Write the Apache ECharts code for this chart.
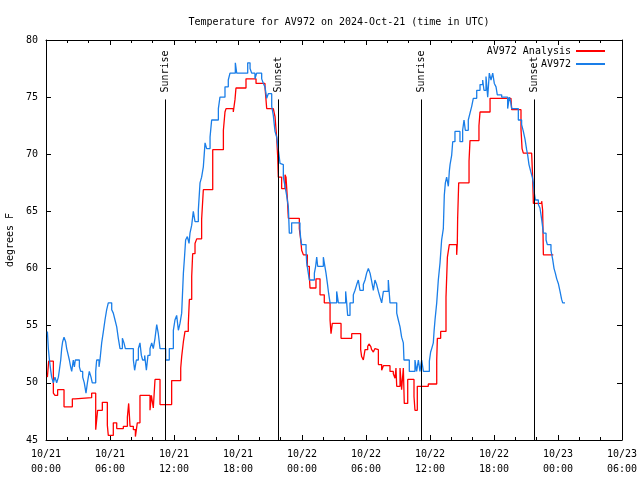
<!DOCTYPE html>
<html>
<head>
<meta charset="utf-8">
<script src="https://cdn.jsdelivr.net/npm/echarts@6/dist/echarts.min.js"></script>
<style>html,body{margin:0;padding:0;background:#fff}#c{width:640px;height:480px}</style>
</head>
<body>
<div id="c"></div>
<script>
// ---- data (hours since 2024-10-21 00:00 UTC, degrees F) ----
const chartTitle = 'Temperature for AV972 on 2024-Oct-21 (time in UTC)';
const xTickLabels = ['10/21\n00:00','10/21\n06:00','10/21\n12:00','10/21\n18:00','10/22\n00:00','10/22\n06:00','10/22\n12:00','10/22\n18:00','10/23\n00:00','10/23\n06:00'];
const yTickValues = [45,50,55,60,65,70,75,80];

const obsTime = [0.13,0.22,0.31,0.44,0.53,0.69,0.84,1.00,1.16,1.25,1.38,1.47,1.56,1.69,1.84,1.94,2.09,2.19,2.31,2.41,2.56,2.66,2.75,3.13,3.25,3.44,3.59,3.75,3.88,4.06,4.22,4.34,4.66,4.75,4.97,5.06,5.22,5.38,5.53,5.69,5.84,6.16,6.31,6.47,6.63,6.78,6.94,7.16,7.31,7.44,8.19,8.31,8.47,8.66,8.81,8.94,9.06,9.25,9.41,9.56,9.75,9.91,10.06,10.22,10.38,10.53,10.69,11.22,11.56,11.94,12.09,12.25,12.41,12.56,12.72,12.88,12.97,13.09,13.25,13.41,13.50,13.66,13.81,13.97,14.28,14.44,14.59,14.75,14.91,15.06,15.38,15.53,16.16,16.31,16.78,17.09,17.25,17.75,17.88,18.91,19.13,19.28,19.59,19.75,20.22,20.38,20.53,20.69,20.84,21.16,21.31,21.47,21.63,21.78,21.94,22.09,22.25,22.41,22.56,22.72,22.81,23.03,23.81,23.88,23.97,24.38,24.44,24.59,24.69,25.16,25.28,25.38,25.47,26.00,26.09,26.25,26.38,26.50,26.63,27.25,27.41,28.09,28.19,28.28,28.50,28.81,28.97,29.13,29.28,29.44,29.75,29.91,30.06,30.22,30.38,30.53,30.69,30.84,31.00,31.16,31.31,31.47,31.63,32.09,32.25,32.88,33.03,33.19,33.34,33.50,33.56,34.06,34.59,34.75,34.91,35.06,35.22,35.38,35.94,36.06,36.16,36.31,36.38,36.47,36.63,36.78,36.94,37.09,37.25,37.34,37.44,37.56,37.72,37.81,37.88,38.03,38.13,38.34,38.81,39.06,39.19,39.31,39.59,39.75,39.91,40.06,40.38,40.69,40.94,41.06,41.25,41.41,41.56,41.72,41.88,42.03,42.19,42.31,42.72,43.28,43.44,43.56,43.66,44.28,44.59,44.75,44.91,45.06,45.16,45.28,45.44,45.59,45.69,45.78,45.88,46.16,46.31,46.47,46.63,46.88,47.00,47.34,47.50,47.63,47.75,47.88,48.03,48.19,48.34,48.44,48.66];
const obsTemp = [54.5,53.0,52.1,51.1,50.5,50.0,50.5,50.0,50.5,51.1,52.0,53.0,53.6,54.0,53.6,53.0,52.4,52.0,51.4,51.0,52.0,51.4,52.0,51.4,51.0,50.5,50.0,49.1,50.0,51.0,50.5,50.0,51.0,52.0,51.4,52.0,53.5,54.5,55.5,56.4,57.0,56.4,56.1,55.5,54.9,53.9,53.0,53.9,53.5,53.0,52.0,51.1,52.0,53.0,53.5,52.4,52.0,52.4,51.1,52.4,53.0,53.5,53.0,53.9,55.1,54.3,53.0,52.0,53.0,54.6,55.5,55.9,54.6,55.2,56.1,59.6,60.8,62.5,62.8,62.2,63.1,63.8,65.0,64.1,65.1,67.5,68.0,68.9,71.0,70.5,71.5,73.0,74.0,75.0,75.9,76.5,77.1,78.0,77.1,78.0,77.5,77.1,76.6,77.1,76.6,76.2,75.9,74.9,75.3,74.2,73.4,72.0,71.5,70.4,69.2,69.1,68.0,67.2,66.4,65.4,63.1,64.0,63.4,62.6,62.1,61.5,60.5,59.6,59.0,59.6,60.2,61.0,60.2,61.0,60.5,59.6,58.7,57.8,57.0,58.0,57.0,58.0,57.0,55.9,57.0,57.7,58.1,58.6,59.0,58.1,58.6,59.0,59.6,60.0,59.6,58.9,58.1,59.0,58.6,58.0,57.5,57.0,58.0,59.0,57.0,56.1,55.5,54.9,54.0,53.5,52.0,51.0,52.0,51.0,52.0,51.0,52.0,51.0,51.9,52.7,53.0,53.5,54.5,55.5,57.0,59.0,60.5,62.5,63.5,66.4,67.5,68.0,67.2,68.5,69.1,69.9,71.1,72.0,71.1,72.1,73.0,72.1,73.0,73.6,74.2,74.9,75.6,76.1,76.5,75.6,76.8,75.0,77.1,76.5,77.1,76.2,75.9,75.2,75.0,74.0,75.0,74.6,74.0,73.0,72.6,72.0,71.3,70.4,69.9,69.1,68.5,68.0,67.5,66.6,66.0,65.6,65.3,64.3,63.1,62.5,62.1,61.6,60.8,60.0,59.6,59.1,58.7,58.0,57.3,57.0,57.0];

const anaTime = [0.13,0.25,0.69,0.84,1.09,1.69,2.47,2.72,4.28,4.66,4.84,5.28,5.75,5.84,6.31,6.63,7.25,7.63,7.75,7.88,8.19,8.38,8.56,8.81,9.75,9.88,10.06,10.22,10.69,11.78,12.63,12.72,12.88,13.03,13.34,13.44,13.66,13.75,13.97,14.13,14.59,14.75,15.63,16.63,16.78,16.88,17.56,17.72,17.81,18.75,19.69,20.53,20.69,21.31,21.47,21.63,21.72,21.78,22.09,22.41,22.50,22.63,22.72,23.75,23.88,23.97,24.13,24.50,24.69,24.75,25.31,25.69,26.09,26.63,26.72,26.84,27.66,28.66,29.50,29.59,29.75,29.91,30.16,30.28,30.44,30.53,30.69,30.84,31.00,31.16,31.47,31.63,32.25,32.56,32.72,32.81,32.88,33.19,33.34,33.50,33.59,33.91,34.50,34.59,34.81,35.84,36.63,36.69,37.00,37.50,37.63,37.81,38.50,38.56,38.59,38.69,39.66,39.75,40.59,40.69,41.63,43.59,43.66,44.53,44.63,44.75,45.53,45.63,45.69,46.47,46.56,46.63,47.56];
const anaTemp = [50.5,51.9,49.1,48.9,49.4,47.9,48.6,48.7,49.1,45.9,47.6,48.3,46.3,45.4,46.5,46.0,46.2,47.0,48.2,46.2,45.9,45.3,46.5,48.9,47.6,48.9,47.8,50.3,48.1,50.2,51.3,52.3,53.6,54.5,55.1,57.3,59.3,61.3,62.2,62.6,64.3,66.9,70.4,72.1,73.7,74.0,73.7,74.8,75.8,76.6,76.2,75.9,74.0,73.9,73.3,71.4,69.8,68.0,67.0,68.2,68.0,66.1,64.4,63.5,62.5,61.6,61.2,60.2,59.3,58.3,59.1,57.7,57.0,55.5,54.3,55.2,53.9,54.3,52.9,52.3,52.0,52.9,53.2,53.4,53.2,52.9,52.7,53.0,52.9,51.6,51.1,51.5,51.0,50.8,50.4,51.3,49.7,51.3,49.4,51.3,48.2,50.3,48.8,47.6,49.7,49.9,52.0,53.9,54.5,57.5,61.0,62.1,61.2,62.2,64.3,67.5,69.4,71.2,72.5,73.7,74.9,75.0,73.9,72.2,70.5,70.1,70.2,67.8,65.7,65.9,65.1,61.2,61.2];

const sunTimes = [11.22, 21.78, 35.22, 45.78];
const sunLabels = ['Sunrise', 'Sunset', 'Sunrise', 'Sunset'];

// ---- chart ----
const FONT = 'DejaVu Sans Mono';
const txt = {fontFamily: FONT, fontSize: 10, color: '#000'};
const black = {color: '#000', width: 1};

const chart = echarts.init(document.getElementById('c'), null, {renderer: 'canvas'});
const xCommon = {type: 'value', min: 0, max: 54, interval: 6,
  axisLine: {show: true, onZero: false, lineStyle: black},
  axisTick: {show: true, inside: true, length: 5, lineStyle: black},
  minorTick: {show: true, splitNumber: 3, length: 3, lineStyle: black},
  splitLine: {show: false}};
const yCommon = {type: 'value', min: 45, max: 80, interval: 5,
  axisLine: {show: true, onZero: false, lineStyle: black},
  axisTick: {show: true, inside: true, length: 5, lineStyle: black},
  splitLine: {show: false}};

const option = {
  animation: false,
  backgroundColor: '#fff',
  title: {text: chartTitle, left: 334, top: 12, textAlign: 'center',
    textStyle: Object.assign({}, txt, {fontWeight: 'normal'})},
  legend: {
    data: ['AV972 Analysis', 'AV972'],
    orient: 'vertical', right: 30, top: 41, align: 'right',
    icon: 'rect', itemWidth: 29, itemHeight: 2, itemGap: 3,
    textStyle: txt
  },
  grid: {left: 46, right: 18, top: 40, bottom: 40, containLabel: false, outerBoundsMode: 'none'},
  xAxis: [
    Object.assign({}, xCommon, {position: 'bottom',
      axisLabel: Object.assign({}, txt, {lineHeight: 15, margin: 7,
        formatter: v => xTickLabels[Math.round(v / 6)]})}),
    Object.assign({}, xCommon, {position: 'top', axisLabel: {show: false}})
  ],
  yAxis: [
    Object.assign({}, yCommon, {position: 'left', name: 'degrees F',
      nameLocation: 'middle', nameGap: 29, nameTextStyle: txt,
      axisLabel: Object.assign({}, txt, {margin: 8})}),
    Object.assign({}, yCommon, {position: 'right', axisLabel: {show: false}})
  ],
  series: [
    {
      name: 'sun', type: 'line', data: [], silent: true,
      markLine: {
        silent: true, symbol: 'none', animation: false,
        lineStyle: {color: '#000', width: 1, type: 'solid'},
        label: {show: false},
        data: sunTimes.map(t => [{coord: [t, 45]}, {coord: [t, 74.8]}])
      },
      markPoint: {
        silent: true, symbol: 'circle', symbolSize: 0, animation: false,
        label: Object.assign({}, txt, {show: true, position: 'inside', rotate: 90,
          align: 'left', verticalAlign: 'middle', formatter: p => p.name}),
        data: sunTimes.map((t, i) => ({name: sunLabels[i], coord: [t, 75.4]}))
      }
    },
    {
      name: 'AV972 Analysis', type: 'line', step: 'end', showSymbol: false,
      color: '#ff0000', lineStyle: {color: '#ff0000', width: 1.3},
      data: anaTime.map((t, i) => [t, anaTemp[i]])
    },
    {
      name: 'AV972', type: 'line', step: 'end', showSymbol: false,
      color: '#1a7ee8', lineStyle: {color: '#1a7ee8', width: 1.3},
      data: obsTime.map((t, i) => [t, obsTemp[i]])
    }
  ]
};
chart.setOption(option);
</script>
</body>
</html>
